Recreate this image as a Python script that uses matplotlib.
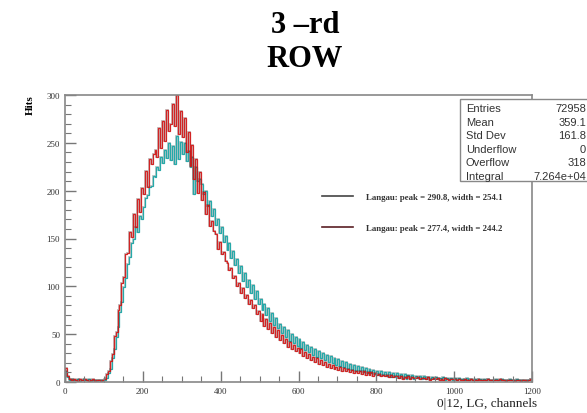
import numpy as np
import matplotlib
matplotlib.use("Agg")
import matplotlib.pyplot as plt
from matplotlib.lines import Line2D
from matplotlib.patches import Rectangle
from matplotlib.ticker import MultipleLocator

# -----------------------------
# DATA (bins of 5 channels, 0 .. 1200)
# -----------------------------
bin_width = 5
bin_edges = np.arange(0, 1200 + bin_width, bin_width)

hits_red = [
    15, 6, 3, 2, 3, 2, 1, 3, 2, 2,
    3, 2, 1, 2, 3, 1, 2, 2, 1, 2,
    3, 8, 11, 22, 29, 48, 52, 75, 81, 104,
    110, 134, 135, 157, 152, 176, 162, 191, 178, 203,
    197, 221, 204, 233, 228, 238, 243, 235, 266, 245,
    273, 252, 284, 262, 270, 291, 268, 300, 259, 283,
    256, 276, 240, 261, 226, 248, 212, 233, 198, 219,
    190, 199, 176, 185, 163, 168, 158, 155, 139, 146,
    134, 136, 126, 124, 117, 119, 109, 111, 100, 104,
    93, 98, 88, 91, 82, 86, 77, 80, 71, 74,
    64, 71, 59, 66, 55, 62, 51, 58, 47, 54,
    44, 49, 41, 45, 37, 42, 35, 39, 32, 36,
    30, 34, 27, 31, 25, 29, 23, 26, 21, 25,
    19, 23, 18, 21, 16, 19, 15, 18, 14, 16,
    13, 16, 12, 15, 11, 14, 10, 13, 9, 12,
    9, 11, 8, 11, 7, 10, 7, 10, 6, 9,
    7, 8, 6, 7, 6, 7, 5, 7, 5, 6,
    6, 4, 6, 3, 5, 4, 6, 3, 5, 4,
    4, 5, 3, 4, 4, 3, 5, 2, 3, 4,
    3, 4, 2, 3, 2, 4, 3, 2, 3, 3,
    3, 2, 3, 2, 2, 3, 2, 2, 3, 2,
    2, 2, 3, 2, 2, 2, 2, 3, 2, 2,
    2, 2, 2, 3, 2, 2, 1, 2, 2, 2,
    2, 1, 2, 2, 1, 2, 2, 1, 2, 3,
]

hits_cyan = [
    12, 5, 2, 3, 2, 2, 3, 1, 2, 3,
    2, 2, 3, 1, 2, 2, 1, 2, 2, 1,
    2, 4, 9, 14, 25, 34, 47, 57, 73, 84,
    99, 109, 123, 131, 145, 150, 162, 157, 173, 170,
    183, 192, 195, 204, 205, 215, 214, 225, 222, 235,
    229, 242, 234, 250, 232, 247, 228, 257, 233, 251,
    238, 250, 231, 241, 225, 235, 196, 225, 210, 212,
    207, 197, 200, 184, 189, 174, 181, 164, 170, 156,
    162, 146, 153, 138, 145, 130, 137, 122, 129, 114,
    121, 106, 114, 99, 107, 93, 101, 87, 95, 82,
    87, 75, 82, 70, 77, 64, 72, 60, 67, 56,
    61, 51, 58, 47, 54, 43, 50, 41, 47, 38,
    45, 36, 42, 33, 39, 31, 37, 28, 34, 26,
    32, 25, 30, 23, 28, 21, 27, 20, 25, 18,
    24, 17, 22, 16, 21, 14, 19, 13, 18, 12,
    17, 11, 16, 10, 15, 9, 14, 9, 13, 8,
    12, 7, 11, 7, 10, 6, 10, 5, 9, 5,
    9, 4, 8, 4, 8, 3, 7, 4, 7, 3,
    6, 4, 6, 3, 6, 3, 5, 3, 5, 3,
    5, 3, 4, 3, 5, 2, 4, 3, 4, 2,
    4, 2, 4, 3, 3, 2, 4, 2, 3, 2,
    3, 2, 3, 3, 2, 3, 2, 3, 2, 2,
    2, 3, 2, 2, 3, 2, 2, 2, 3, 2,
    2, 2, 3, 2, 2, 2, 1, 2, 2, 3,
]

stat_names = ["Entries", "Mean", "Std Dev", "Underflow", "Overflow", "Integral"]
stat_values = ["72958", "359.1", "161.8", "0", "318", "7.264e+04"]

fit_labels = ["Langau: peak = 290.8, width = 254.1",
              "Langau: peak = 277.4, width = 244.2"]

# -----------------------------
# FIGURE
# -----------------------------
serif = ["Liberation Serif", "DejaVu Serif"]
sans = ["Liberation Sans", "DejaVu Sans"]

fig = plt.figure(figsize=(5.87, 4.14), dpi=100)
ax = fig.add_axes([65 / 587, 31 / 414, 467 / 587, 287 / 414])

# faint dark trace under each histogram, then the coloured line
ax.stairs(hits_cyan, bin_edges, color="#1c3c3c", lw=1.3, alpha=0.3)
ax.stairs(hits_cyan, bin_edges, color="#25a9a9", lw=0.9)
ax.stairs(hits_red, bin_edges, color="#3a0a0a", lw=1.3, alpha=0.3)
ax.stairs(hits_red, bin_edges, color="#d41414", lw=0.9, alpha=0.9)

ax.set_xlim(0, 1200)
ax.set_ylim(0, 300)
ax.xaxis.set_major_locator(MultipleLocator(200))
ax.xaxis.set_minor_locator(MultipleLocator(50))
ax.yaxis.set_major_locator(MultipleLocator(50))
ax.yaxis.set_minor_locator(MultipleLocator(10))
ax.tick_params(which="both", direction="in", colors="#777777", labelcolor="#333333",
               labelsize=6.5, top=False, right=False)
ax.tick_params(which="major", length=8, width=1)
ax.tick_params(which="minor", length=4, width=0.8)
for lab in ax.get_xticklabels() + ax.get_yticklabels():
    lab.set_family(serif)
for s in ax.spines.values():
    s.set_color("#888888")
    s.set_linewidth(1.2)

# title / axis labels
fig.text(305 / 587, 1 - 33 / 414, "3 –rd", ha="center", va="baseline",
         fontsize=22, fontweight="bold", family=serif)
fig.text(305 / 587, 1 - 67 / 414, "ROW", ha="center", va="baseline",
         fontsize=22, fontweight="bold", family=serif)
fig.text(30 / 587, 1 - 105 / 414, "Hits", rotation=90, ha="center", va="center",
         fontsize=8, fontweight="bold", family=serif)
fig.text(537 / 587, 1 - 404 / 414, "0|12, LG, channels", ha="right", va="center",
         fontsize=9.5, family=serif, color="#222222")

# fit legend
handles = [Line2D([], [], color="#444444", lw=1.2),
           Line2D([], [], color="#5a1f24", lw=1.2)]
leg = fig.legend(handles, fit_labels, loc="upper left",
                 bbox_to_anchor=(314 / 587, 1 - 186 / 414), frameon=False,
                 prop={"family": serif, "size": 6.3, "weight": "bold"},
                 handlelength=3.6, handletextpad=1.4, labelspacing=2.6)
for t in leg.get_texts():
    t.set_color("#333333")

# stats box
box_x0, box_y0 = 460 / 587, 1 - 182 / 414
fig.patches.append(Rectangle((box_x0, box_y0), 0.3, 82 / 414, transform=fig.transFigure,
                             facecolor="white", edgecolor="#888888", lw=1.0, zorder=5))
for i, (name, val) in enumerate(zip(stat_names, stat_values)):
    y = 1 - (109 + i * 13.6) / 414
    fig.text(466 / 587, y, name, ha="left", va="center", fontsize=8,
             family=sans, color="#333333", zorder=6)
    fig.text(586 / 587, y, val, ha="right", va="center", fontsize=8,
             family=sans, color="#333333", zorder=6)

fig.savefig("out.png", dpi=100)
